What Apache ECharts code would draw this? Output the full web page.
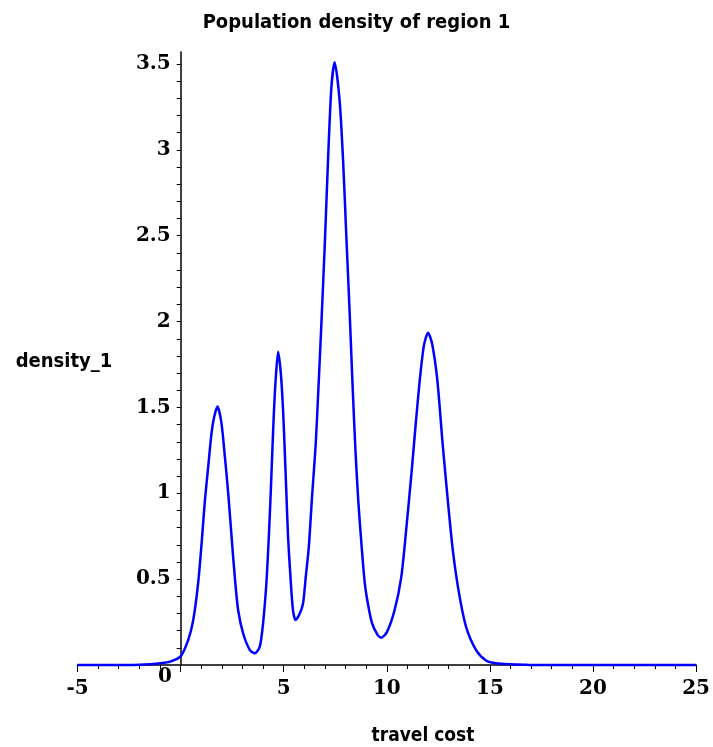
<!DOCTYPE html>
<html lang="en">
<head>
<meta charset="UTF-8" />
<title>Population density of region 1</title>
<script src="https://cdn.jsdelivr.net/npm/echarts@6.0.0/dist/echarts.min.js"></script>
<style>
  html, body { margin: 0; padding: 0; background: #ffffff; }
  #main { width: 713px; height: 747px; }
</style>
</head>
<body>
<div id="main"></div>
<script>
// curve: travel cost -> density_1
const travelCost = [
  -5, -3, -2, -1.5, -1, -0.5, 0, 0.37, 0.61, 0.85,
  1.02, 1.18, 1.34, 1.5, 1.63, 1.79, 1.98, 2.15, 2.31, 2.47,
  2.63, 2.79, 3.03, 3.36, 3.6, 3.84, 4.0, 4.16, 4.28, 4.37,
  4.45, 4.53, 4.62, 4.73, 4.86, 4.97, 5.05, 5.13, 5.21, 5.33,
  5.45, 5.58, 5.78, 5.94, 6.06, 6.22, 6.38, 6.55, 6.68, 6.84,
  7.0, 7.15, 7.31, 7.47, 7.71, 7.88, 8.04, 8.2, 8.34, 8.48,
  8.62, 8.78, 8.93, 9.08, 9.28, 9.55, 9.73, 10.0, 10.38, 10.7,
  10.95, 11.2, 11.4, 11.6, 11.8, 12.0, 12.2, 12.45, 12.7, 12.95,
  13.2, 13.5, 13.85, 14.33, 14.83, 15.3, 16.0, 16.6, 17.0, 25
];
const density1 = [
  0, 0, 0.002, 0.005, 0.01, 0.02, 0.05, 0.146, 0.26, 0.476,
  0.71, 0.96, 1.155, 1.35, 1.446, 1.505, 1.41, 1.21, 1.0, 0.75,
  0.51, 0.32, 0.185, 0.087, 0.068, 0.107, 0.243, 0.476, 0.75, 1.0,
  1.25, 1.485, 1.68, 1.825, 1.7, 1.485, 1.25, 1.0, 0.75, 0.51,
  0.32, 0.262, 0.3, 0.36, 0.5, 0.69, 0.99, 1.28, 1.6, 2.02,
  2.47, 2.94, 3.36, 3.51, 3.29, 2.94, 2.49, 2.05, 1.63, 1.25,
  0.95, 0.69, 0.48, 0.36, 0.246, 0.176, 0.159, 0.19, 0.32, 0.51,
  0.8, 1.12, 1.4, 1.66, 1.86, 1.935, 1.87, 1.66, 1.3, 0.97,
  0.67, 0.42, 0.22, 0.087, 0.025, 0.01, 0.004, 0.002, 0, 0
];
const xTickLabels = [-5, 0, 5, 10, 15, 20, 25];
const yTickLabels = [0.5, 1, 1.5, 2, 2.5, 3, 3.5];
const yTickValues = [
  0.1, 0.2, 0.3, 0.4, 0.5, 0.6, 0.7, 0.8, 0.9, 1.0,
  1.1, 1.2, 1.3, 1.4, 1.5, 1.6, 1.7, 1.8, 1.9, 2.0,
  2.1, 2.2, 2.3, 2.4, 2.5, 2.6, 2.7, 2.8, 2.9, 3.0,
  3.1, 3.2, 3.3, 3.4, 3.5
];
const yMax = 3.57;

const serifBold = "'DejaVu Serif', 'Liberation Serif', serif";
const sansBold = "'Liberation Sans Narrow', 'DejaVu Sans Condensed', 'Liberation Sans', Arial, sans-serif";

const chart = echarts.init(document.getElementById('main'));

chart.setOption({
  backgroundColor: '#ffffff',
  animation: false,
  title: {
    text: 'Population density of region 1',
    left: 'center',
    top: 8,
    textStyle: { fontFamily: sansBold, fontWeight: 'bold', fontSize: 20, color: '#000' }
  },
  graphic: [
    { type: 'text', x: 64, y: 362,
      style: { text: 'density_1', fill: '#000', font: 'bold 20px ' + sansBold,
               textAlign: 'center', textVerticalAlign: 'middle' } },
    { type: 'text', x: 423, y: 736,
      style: { text: 'travel cost', fill: '#000', font: 'bold 19px ' + sansBold,
               textAlign: 'center', textVerticalAlign: 'middle' } },
    // the 0 label of the x axis sits left of the vertical axis
    { type: 'text', x: 165, y: 677,
      style: { text: '0', fill: '#000', font: 'bold 20px ' + serifBold,
               textAlign: 'center', textVerticalAlign: 'middle' } }
  ],
  // grid 0 holds the curve, grid 1 only carries the vertical axis drawn at x = 0
  grid: [
    { left: 77.5, right: 16, top: 52, bottom: 82 },
    { left: 180.7, right: 16, top: 52, bottom: 82 }
  ],
  xAxis: [{
    gridIndex: 0,
    type: 'value',
    min: -5,
    max: 25,
    interval: 5,
    splitLine: { show: false },
    axisLine: { onZero: true, lineStyle: { color: '#000', width: 1.5 } },
    axisTick: { length: 7, lineStyle: { color: '#000', width: 1 } },
    minorTick: { show: true, splitNumber: 5, length: 4, lineStyle: { color: '#000', width: 1 } },
    axisLabel: {
      margin: 14,
      color: '#000',
      fontFamily: serifBold,
      fontWeight: 'bold',
      fontSize: 20,
      formatter: v => (xTickLabels.includes(v) && v !== 0 ? String(v) : '')
    }
  }, {
    gridIndex: 1,
    type: 'value',
    min: 0,
    max: 1,
    show: false
  }],
  yAxis: [{
    gridIndex: 0,
    type: 'value',
    min: 0,
    max: yMax,
    show: false
  }, {
    gridIndex: 1,
    type: 'value',
    min: 0,
    max: yMax,
    splitLine: { show: false },
    axisLine: { show: true, onZero: false, lineStyle: { color: '#000', width: 1.5 } },
    axisTick: { show: true, length: 4, customValues: yTickValues, lineStyle: { color: '#000', width: 1 } },
    axisLabel: {
      margin: 10,
      color: '#000',
      fontFamily: serifBold,
      fontWeight: 'bold',
      fontSize: 20,
      customValues: yTickLabels,
      formatter: v => String(v)
    }
  }],
  series: [{
    type: 'line',
    xAxisIndex: 0,
    yAxisIndex: 0,
    data: travelCost.map((x, i) => [x, density1[i]]),
    showSymbol: false,
    smooth: 0.25,
    lineStyle: { color: '#0000ff', width: 2.5 },
    clip: false
  }]
});
</script>
</body>
</html>
